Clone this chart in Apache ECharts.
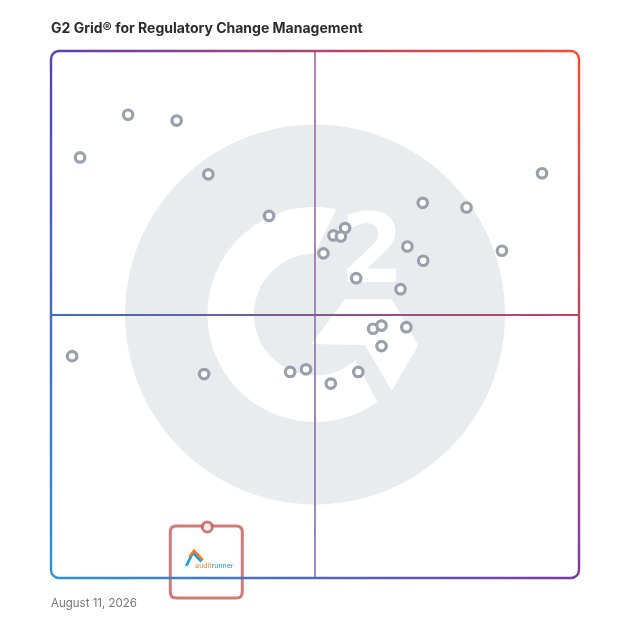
<!DOCTYPE html>
<html><head><meta charset="utf-8">
<script src="https://cdn.jsdelivr.net/npm/echarts@6/dist/echarts.min.js"></script>
<style>html,body{margin:0;padding:0;background:#fff}#c{width:628px;height:628px}</style>
</head><body><div id="c"></div>
<script>
const titleText = 'G2 Grid® for Regulatory Change Management';
const dateText = 'August 11, 2026';
// Satisfaction / Market presence style coordinates (0..100)
const productX = [14.6, 23.8, 5.5, 29.8, 41.3, 93.0, 70.4, 78.7, 85.4, 55.7, 53.5, 54.9, 51.6, 67.5, 70.5, 57.8, 66.2, 61.0, 62.6, 67.3, 62.6, 4.0, 29.0, 45.3, 48.3, 53.0, 58.2];
const productY = [87.9, 86.8, 79.8, 76.6, 68.7, 76.8, 71.2, 70.3, 62.1, 66.4, 65.0, 64.8, 61.6, 62.9, 60.2, 56.9, 54.8, 47.3, 47.9, 47.6, 44.0, 42.1, 38.7, 39.1, 39.6, 36.9, 39.1];
const featuredName = ['audit', 'runner'];
const featuredX = [29.6];
const featuredY = [9.7];
const axisMin = 0, axisMax = 100, midValue = 50;

const chart = echarts.init(document.getElementById('c'), null, {renderer: 'canvas'});
const G = {left: 51, top: 51, width: 528, height: 527};

const productData = productX.map((x, i) => [x, productY[i]]);
const featuredData = featuredX.map((x, i) => [x, featuredY[i]]);
const boxPath = 'path://M6,0 L66,0 Q72,0 72,6 L72,66 Q72,72 66,72 L6,72 Q0,72 0,66 L0,6 Q0,0 6,0 Z';

chart.setOption({
  animation: false,
  title: {text: titleText, left: 51, top: 22, padding: 0,
    textStyle: {fontSize: 14, fontWeight: 'bold', fontFamily: 'Inter', color: '#2c2c2c'}},
  grid: G,
  xAxis: {type: 'value', min: axisMin, max: axisMax, show: false},
  yAxis: {type: 'value', min: axisMin, max: axisMax, show: false},
  series: [
    {type: 'scatter', data: productData, symbol: 'circle', symbolSize: 9.5, z: 5,
     itemStyle: {color: '#ffffff', borderColor: '#9aa0ab', borderWidth: 3.2, opacity: 1},
     markLine: {silent: true, symbol: 'none', label: {show: false}, animation: false,
       data: [
         {xAxis: midValue, lineStyle: {width: 1.8, type: 'solid', color: {type: 'linear', x: 0, y: 0, x2: 0, y2: 1,
           colorStops: [{offset: 0, color: '#a878ad'}, {offset: 1, color: '#8a7ec6'}]}}},
         {yAxis: midValue, lineStyle: {width: 1.8, type: 'solid', color: {type: 'linear', x: 0, y: 0, x2: 1, y2: 0,
           colorStops: [{offset: 0, color: '#3b6ec2'}, {offset: 1, color: '#c9405a'}]}}}
       ]}},
    {type: 'scatter', data: featuredData, symbol: boxPath, symbolSize: [72, 72], symbolOffset: [-1, 35], z: 6,
     itemStyle: {color: '#ffffff', borderColor: '#c45858', borderWidth: 3}},
    {type: 'scatter', data: featuredData, symbol: 'circle', symbolSize: 10, z: 7,
     itemStyle: {color: '#ffffff', borderColor: '#c45858', borderWidth: 3}}
  ]
});

// decorations positioned from the grid
const c = chart.convertToPixel({gridIndex: 0}, [midValue, midValue]);
const tl = chart.convertToPixel({gridIndex: 0}, [axisMin, axisMax]);
const br = chart.convertToPixel({gridIndex: 0}, [axisMax, axisMin]);
const fp = chart.convertToPixel({gridIndex: 0}, featuredData[0]);
const cx = c[0], cy = c[1];

function arcPts(r, a0, a1, n) {
  const pts = [];
  for (let i = 0; i <= n; i++) {
    const a = (a0 + (a1 - a0) * i / n) * Math.PI / 180;
    pts.push([cx + r * Math.cos(a), cy + r * Math.sin(a)]);
  }
  return pts;
}
const gPts = arcPts(107.5, 54.5, 281.4, 90).concat(arcPts(61, 270, 48.5, 60));
const chev = [[-3.3, 29.5], [30, -15.5], [76.7, -15.5], [103.3, 30.5], [76.7, 76.2], [50, 30.5]].map(p => [cx + p[0], cy + p[1]]);

const L = tl[0], T = tl[1], R = br[0], B = br[1], rr = 8, bw = 2.4;
const cTL = '#5a3fb1', cTR = '#ff4b2b', cBR = '#7a3a9e', cBL = '#2a93d9';
function grad(x, y, x2, y2, a, b) {
  return {type: 'linear', x, y, x2, y2, global: true, colorStops: [{offset: 0, color: a}, {offset: 1, color: b}]};
}
const graphics = [
  {type: 'circle', z: 0, silent: true, shape: {cx, cy, r: 190}, style: {fill: '#e9ecef'}},
  {type: 'polygon', z: 0, silent: true, shape: {points: gPts}, style: {fill: '#ffffff'}},
  {type: 'polygon', z: 0, silent: true, shape: {points: chev}, style: {fill: '#ffffff'}},
  {type: 'text', z: 0, silent: true, x: cx + 57, y: cy - 57, scaleX: 0.95,
   style: {text: '2', fill: '#ffffff', fontSize: 96, fontWeight: 'bold', fontFamily: 'DejaVu Sans', align: 'center', verticalAlign: 'middle'}},
  // border
  {type: 'line', z: 20, silent: true, shape: {x1: L + rr, y1: T, x2: R - rr, y2: T}, style: {lineWidth: bw, stroke: grad(L, T, R, T, cTL, cTR)}},
  {type: 'line', z: 20, silent: true, shape: {x1: R, y1: T + rr, x2: R, y2: B - rr}, style: {lineWidth: bw, stroke: grad(R, T, R, B, cTR, cBR)}},
  {type: 'line', z: 20, silent: true, shape: {x1: L + rr, y1: B, x2: R - rr, y2: B}, style: {lineWidth: bw, stroke: grad(L, B, R, B, cBL, cBR)}},
  {type: 'line', z: 20, silent: true, shape: {x1: L, y1: T + rr, x2: L, y2: B - rr}, style: {lineWidth: bw, stroke: grad(L, T, L, B, cTL, cBL)}},
  {type: 'arc', z: 20, silent: true, shape: {cx: L + rr, cy: T + rr, r: rr, startAngle: Math.PI, endAngle: Math.PI * 1.5}, style: {lineWidth: bw, stroke: cTL, fill: null}},
  {type: 'arc', z: 20, silent: true, shape: {cx: R - rr, cy: T + rr, r: rr, startAngle: Math.PI * 1.5, endAngle: Math.PI * 2}, style: {lineWidth: bw, stroke: cTR, fill: null}},
  {type: 'arc', z: 20, silent: true, shape: {cx: R - rr, cy: B - rr, r: rr, startAngle: 0, endAngle: Math.PI * 0.5}, style: {lineWidth: bw, stroke: cBR, fill: null}},
  {type: 'arc', z: 20, silent: true, shape: {cx: L + rr, cy: B - rr, r: rr, startAngle: Math.PI * 0.5, endAngle: Math.PI}, style: {lineWidth: bw, stroke: cBL, fill: null}},
  // date
  {type: 'text', z: 20, x: L, y: 604, style: {text: dateText, fill: '#777777', fontSize: 11.5, fontFamily: 'Inter', verticalAlign: 'middle'}},
  // featured logo
  {type: 'polyline', z: 30, silent: true, shape: {points: [[fp[0] - 21, fp[1] + 39], [fp[0] - 14.3, fp[1] + 25.7], [fp[0] - 6, fp[1] + 34.7]]},
   style: {stroke: '#1e9ad8', lineWidth: 2.6, fill: null}},
  {type: 'polyline', z: 31, silent: true, shape: {points: [[fp[0] - 18, fp[1] + 30], [fp[0] - 13.3, fp[1] + 23.7], [fp[0] - 4.3, fp[1] + 33]]},
   style: {stroke: '#f27d2e', lineWidth: 2.4, fill: null}},
  {type: 'text', z: 31, silent: true, x: fp[0] - 12, y: fp[1] + 39,
   style: {text: '{a|' + featuredName[0] + '}{r|' + featuredName[1] + '}', verticalAlign: 'middle',
     rich: {a: {fill: '#f08a3a', fontSize: 7, fontFamily: 'Inter'}, r: {fill: '#2299d8', fontSize: 7, fontFamily: 'Inter'}}}}
];
chart.setOption({graphic: graphics});
</script>
</body></html>
